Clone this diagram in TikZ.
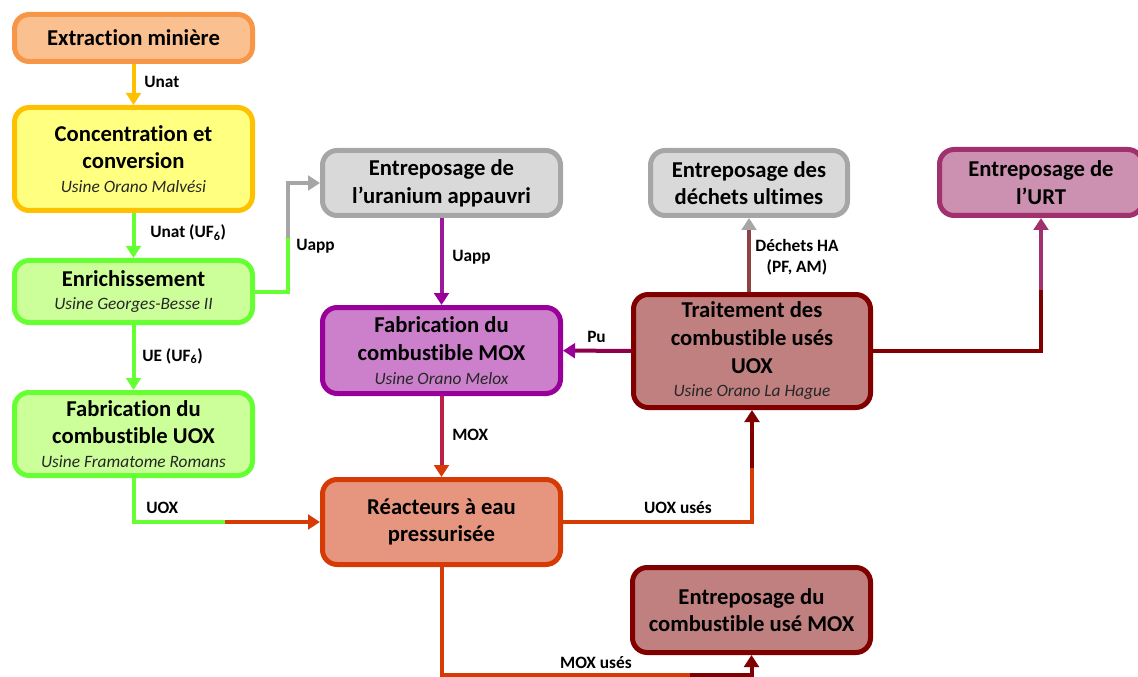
\documentclass[tikz,border=0pt]{standalone}
\usepackage{fontspec}
\setmainfont{Carlito}[Ligatures=NoCommon]
\usetikzlibrary{arrows.meta}
\definecolor{orangeB}{HTML}{F79646}
\definecolor{orangeF}{HTML}{FAC090}
\definecolor{jauneB}{HTML}{FFC000}
\definecolor{jauneF}{HTML}{FFFF80}
\definecolor{vertB}{HTML}{66FF33}
\definecolor{vertF}{HTML}{CCFF99}
\definecolor{grisB}{HTML}{A6A6A6}
\definecolor{grisF}{HTML}{D9D9D9}
\definecolor{violetB}{HTML}{990099}
\definecolor{violetF}{HTML}{CC80CC}
\definecolor{rougeB}{HTML}{D63A05}
\definecolor{rougeF}{HTML}{E6967E}
\definecolor{bordeauxB}{HTML}{800000}
\definecolor{bordeauxF}{HTML}{C08080}
\definecolor{roseB}{HTML}{A0306E}
\definecolor{roseF}{HTML}{CC90B0}
\newcommand\usine[1]{\\[-3pt]{\fontsize{13}{16}\selectfont\mdseries\itshape\color{black!85}#1}}
\begin{document}
\begin{tikzpicture}[x=0.75pt,y=-0.75pt,
  boite/.style={draw=#1B, fill=#1F, line width=3.75pt, rounded corners=11pt, align=center,
    inner sep=0pt, font=\fontsize{17}{20.75}\selectfont\bfseries},
  flux/.style={draw=#1, line width=3pt},
  >={Triangle[width=11pt,length=9pt]},
  bout/.style={-{Triangle[width=11pt,length=9pt,color=#1]}},
  etiq/.style={font=\fontsize{13}{15.75}\selectfont\bfseries, inner sep=0pt}]
\useasboundingbox (0,0) rectangle (1138,677);

\node[boite=orange, minimum width=178.5pt, minimum height=35.25pt] (extraction) at (133.5,38) {Extraction minière};
\node[boite=jaune, minimum width=178.5pt, minimum height=77.25pt] (concentration) at (133.5,159) {Concentration et\\conversion\usine{Usine Orano Malvési}};
\node[boite=vert, minimum width=178.5pt, minimum height=46.5pt] (enrichissement) at (133.5,291.5) {Enrichissement\usine{Usine Georges-Besse II}};
\node[boite=vert, minimum width=178.5pt, minimum height=62.25pt] (fabuox) at (133.5,434) {Fabrication du\\combustible UOX\usine{Usine Framatome Romans}};
\node[boite=gris, minimum width=178.5pt, minimum height=48.75pt] (stockuapp) at (441.5,183) {Entreposage de\\l’uranium appauvri};
\node[boite=violet, minimum width=178.5pt, minimum height=64.5pt] (fabmox) at (441.5,350.5) {Fabrication du\\combustible MOX\usine{Usine Orano Melox}};
\node[boite=rouge, minimum width=178.5pt, minimum height=63.75pt] (reacteurs) at (441.5,522) {Réacteurs à eau\\pressurisée};
\node[boite=gris, minimum width=147.75pt, minimum height=48.75pt] (dechets) at (749,183) {Entreposage des\\déchets ultimes};
\node[boite=rose, minimum width=152.25pt, minimum height=49.5pt] (urt) at (1041,182.5) {Entreposage de\\l’URT};
\node[boite=bordeaux, minimum width=177.75pt, minimum height=84.75pt] (traitement) at (752,351) {Traitement des\\combustible usés\\UOX\usine{Usine Orano La Hague}};
\node[boite=bordeaux, minimum width=178.5pt, minimum height=63.75pt] (stockmox) at (751.5,610) {Entreposage du\\combustible usé MOX};

\coordinate (uappmi) at (288,238);
\coordinate (uoxmi) at (225,522);
\coordinate (urtmi) at (1041,290);
\coordinate (usesmi) at (752,468);
\coordinate (moxmi) at (690,675);

\draw[flux=jauneB, ->] (extraction) -- (concentration);
\draw[flux=vertB, ->] (concentration) -- (enrichissement);
\draw[flux=vertB, ->] (enrichissement) -- (fabuox);
\draw[flux=vertB] (enrichissement.east) -| (uappmi);
\draw[flux=grisB, ->] (uappmi) |- (stockuapp.west);
\draw[flux=vertB] (fabuox) |- (uoxmi);
\draw[flux=rougeB, ->] (uoxmi) -- (reacteurs);
\draw[flux=violetB!85!grisB, bout=violetB] (stockuapp) -- (fabmox);
\draw[flux=violetB!45!rougeB, bout=rougeB] (fabmox) -- (reacteurs);
\draw[flux=bordeauxB!50!violetB, bout=violetB] (traitement) -- (fabmox);
\draw[flux=bordeauxB!60!grisB, bout=grisB] (traitement.north -| dechets) -- (dechets);
\draw[flux=bordeauxB] (traitement) -| (urtmi);
\draw[flux=roseB, ->] (urtmi) -- (urt);
\draw[flux=rougeB] (reacteurs) -| (usesmi);
\draw[flux=bordeauxB, ->] (usesmi) -- (traitement);
\draw[flux=rougeB] (reacteurs) |- (moxmi);
\draw[flux=bordeauxB, ->] (moxmi) -| (stockmox);

\node[etiq, anchor=base west] (lunat) at (144,88) {Unat};
\node[etiq, anchor=base west] (lunatuf) at (150,238) {Unat (UF\textsubscript{6})};
\node[etiq, anchor=base west] (luapp) at (296,251) {Uapp};
\node[etiq, anchor=base west] (lue) at (142,361) {UE (UF\textsubscript{6})};
\node[etiq, anchor=base west] (luox) at (146,513) {UOX};
\node[etiq, anchor=base west] (luappb) at (452,262) {Uapp};
\node[etiq, anchor=base west] (lmox) at (452,440) {MOX};
\node[etiq, anchor=base west] (lpu) at (587,342) {Pu};
\node[etiq, align=center] (lha) at (797,257) {Déchets HA\\(PF, AM)};
\node[etiq, anchor=base] (luoxuses) at (678,513) {UOX usés};
\node[etiq, anchor=base] (lmoxuses) at (596,668) {MOX usés};
\end{tikzpicture}
\end{document}
